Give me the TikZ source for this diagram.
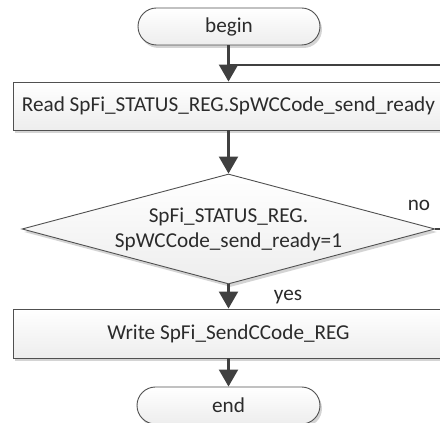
\documentclass[tikz,border=0pt]{standalone}
\usepackage{fontspec}
\setmainfont{Carlito}
\usetikzlibrary{shapes.geometric,shadows,arrows.meta}
\definecolor{edge}{HTML}{505050}
\definecolor{flow}{HTML}{404040}
\definecolor{ink}{HTML}{2B2B2B}
\definecolor{shadowgray}{HTML}{D4D4D4}
\tikzset{
  box/.style={draw=edge, line width=0.9pt, top color=white, bottom color=black!7,
    drop shadow={shadow xshift=2pt, shadow yshift=-3pt, fill=shadowgray, opacity=1},
    text=ink, font=\fontsize{21.2}{27}\selectfont, inner sep=0pt},
  stepbox/.style={box, rectangle, minimum width=431pt, minimum height=48pt},
  terminal/.style={box, rectangle, rounded corners=18.5pt, minimum height=37pt},
  decision/.style={box, diamond, aspect=3.75, minimum width=413pt, minimum height=110pt,
    align=center},
  flowline/.style={draw=flow, line width=2.2pt, -{Triangle[length=17pt, width=19pt]}},
  loopline/.style={draw=flow, line width=2pt},
  tag/.style={text=ink, font=\fontsize{21.2}{27}\selectfont}
}
\begin{document}
\begin{tikzpicture}[x=1pt, y=1pt]
  \useasboundingbox (0,0) rectangle (440,423);
  \clip (0,0) rectangle (440,423);

  \node[terminal, minimum width=182pt] (begin) at (229,396.5) {begin};
  \node[stepbox] (read) at (228.5,317) {Read SpFi\_STATUS\_REG.SpWCCode\_send\_ready};
  \node[decision] (check) at (228.5,194) {SpFi\_STATUS\_REG.\\[-2pt]SpWCCode\_send\_ready=1};
  \node[stepbox, minimum height=49pt] (write) at (228.5,89.5) {Write SpFi\_SendCCode\_REG};
  \node[terminal, minimum width=183pt] (end) at (228.5,17.5) {end};

  \coordinate (join) at (228.5,358);
  \coordinate (turn) at (462,194);

  \draw[flowline] (begin.south -| read.north) -- (read.north);
  \draw[loopline] (check.east) -- (turn) |- (join);
  \draw[flowline] (read) -- (check);
  \draw[flowline] (check) -- (write);
  \draw[flowline] (write.south -| end.north) -- (end.north);

  \node[tag] (no) at (419,218) {no};
  \node[tag] (yes) at (288,126) {yes};
\end{tikzpicture}
\end{document}
